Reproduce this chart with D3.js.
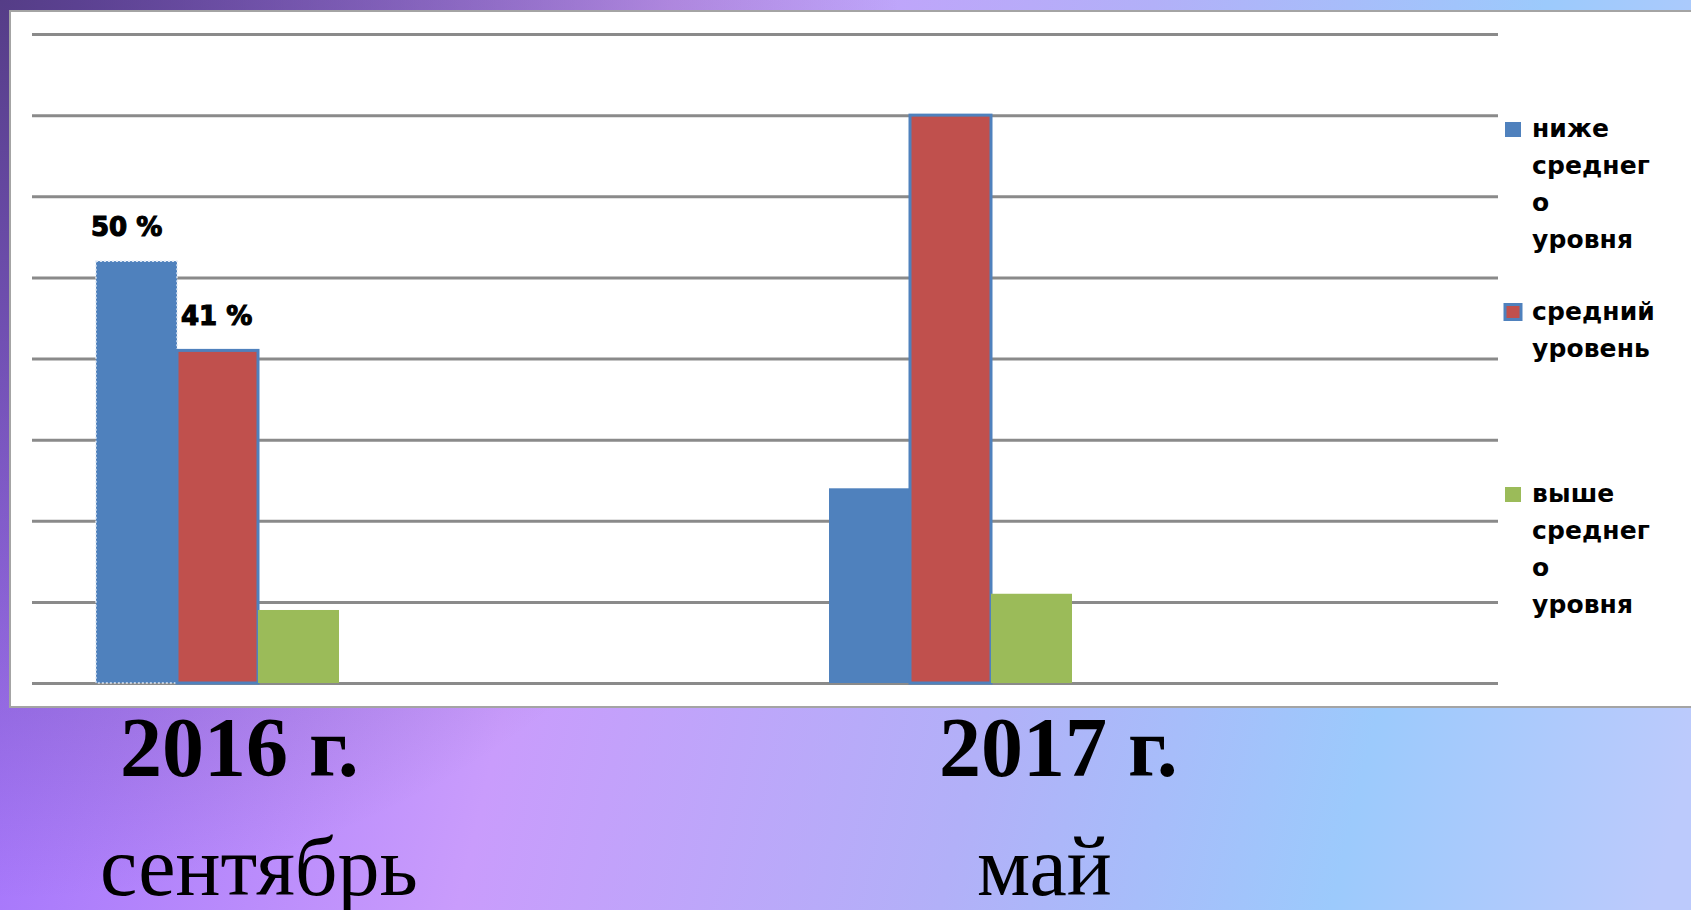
<!DOCTYPE html>
<html>
<head>
<meta charset="utf-8">
<script src="https://cdn.jsdelivr.net/npm/d3@7"></script>
<style>
  html, body { margin: 0; padding: 0; overflow: hidden; }
  svg { display: block; }
</style>
</head>
<body>
<div id="chart"></div>
<script>
// Chart data
const categories = ["2016", "2017"];
const series = ["ниже среднего уровня", "средний уровень", "выше среднего уровня"];
const belowAvg = [52, 24];
const average = [41, 70];
const aboveAvg = [9, 11];
const seriesValues = [belowAvg, average, aboveAvg];
const yTicks = [0, 10, 20, 30, 40, 50, 60, 70, 80];
const dataLabels2016 = ["50 %", "41 %", ""];
const legendLines = [["ниже", "среднег", "о", "уровня"], ["средний", "уровень"], ["выше", "среднег", "о", "уровня"]];
const yearLabels = ["2016 г.", "2017 г."];
const monthLabels = ["сентябрь", "май"];

const colors = ["#4F81BD", "#C0504D", "#9BBB59"];

const width = 1691;
const height = 910;

const svg = d3.select("#chart")
    .append("svg")
    .attr("width", width)
    .attr("height", height);

// Slide background gradient
const defs = svg.append("defs");
const bg = defs.append("linearGradient")
    .attr("id", "bg")
    .attr("gradientUnits", "userSpaceOnUse")
    .attr("x1", 0).attr("y1", 350)
    .attr("x2", width).attr("y2", 750);
[["0", "#9f6ffb"], ["0.33", "#c99cfc"], ["0.6", "#b2b0f8"], ["0.82", "#9ccafc"], ["1", "#bccafc"]]
    .forEach(([o, c]) => bg.append("stop").attr("offset", o).attr("stop-color", c));

const shade = defs.append("radialGradient")
    .attr("id", "shade")
    .attr("gradientUnits", "userSpaceOnUse")
    .attr("cx", 0).attr("cy", 0).attr("r", 900);
shade.append("stop").attr("offset", "0").attr("stop-color", "#3c2c60").attr("stop-opacity", 0.75);
shade.append("stop").attr("offset", "1").attr("stop-color", "#3c2c60").attr("stop-opacity", 0);

svg.append("rect").attr("width", width).attr("height", height).attr("fill", "url(#bg)");
svg.append("rect").attr("width", width).attr("height", height).attr("fill", "url(#shade)");

// White chart panel
svg.append("rect")
    .attr("x", 10).attr("y", 11)
    .attr("width", width - 8).attr("height", 696)
    .attr("fill", "#ffffff")
    .attr("stroke", "#a4a4a4")
    .attr("stroke-width", 2);

// Scales
const plot = { left: 32, right: 1498, top: 34, bottom: 683 };

const y = d3.scaleLinear()
    .domain([0, 80])
    .range([plot.bottom, plot.top]);

const x0 = d3.scaleBand()
    .domain(categories)
    .range([plot.left, plot.right]);

const x1 = d3.scaleBand()
    .domain(series)
    .range([64, 307]);

// Gridlines
const grid = svg.append("g")
    .attr("transform", `translate(${plot.left},0)`)
    .call(d3.axisLeft(y).tickValues(yTicks).tickSize(-(plot.right - plot.left)).tickFormat(""));
grid.select(".domain").remove();
grid.selectAll(".tick line")
    .attr("stroke", "#8a8a8a")
    .attr("stroke-width", 3);

// Bars
const groups = svg.selectAll("g.group")
    .data(categories)
    .join("g")
    .attr("class", "group")
    .attr("transform", d => `translate(${x0(d)},0)`);

groups.selectAll("rect")
    .data((c, ci) => series.map((s, si) => ({ s, si, ci, v: seriesValues[si][ci] })))
    .join("rect")
    .attr("x", d => x1(d.s))
    .attr("y", d => y(d.v))
    .attr("width", x1.bandwidth())
    .attr("height", d => y(0) - y(d.v))
    .attr("fill", d => colors[d.si])
    .attr("stroke", d => d.si === 1 ? "#4F81BD" : (d.si === 0 && d.ci === 0 ? "#dce6f4" : "none"))
    .attr("stroke-width", d => d.si === 1 ? 3 : 1.5)
    .attr("stroke-dasharray", d => d.si === 0 ? "2,2" : null);

// Data labels (2016), heavy bold text
const labelShift = [-5, 4];
svg.append("g")
    .selectAll("text")
    .data(series.map((s, si) => ({ s, si, label: dataLabels2016[si], v: seriesValues[si][0] })).filter(d => d.label))
    .join("text")
    .attr("x", d => x0(categories[0]) + x1(d.s) + labelShift[d.si])
    .attr("y", d => y(d.v) - 25)
    .attr("font-family", "'DejaVu Sans', Verdana, sans-serif")
    .attr("font-weight", "bold")
    .attr("font-size", 26)
    .attr("fill", "#000")
    .attr("stroke", "#000")
    .attr("stroke-width", 1.2)
    .text(d => d.label);

// Legend
const legend = svg.append("g")
    .attr("font-family", "'DejaVu Sans', Verdana, sans-serif")
    .attr("font-weight", "bold")
    .attr("font-size", 25)
    .attr("fill", "#000");

const legendItems = legend.selectAll("g")
    .data(series)
    .join("g")
    .attr("transform", (d, i) => `translate(1505,${137 + i * 182.5})`);

legendItems.append("rect")
    .attr("x", 0)
    .attr("y", -15)
    .attr("width", 16)
    .attr("height", 15)
    .attr("fill", (d, i) => colors[i])
    .attr("stroke", (d, i) => i === 1 ? "#4F81BD" : "none")
    .attr("stroke-width", 3);

legendItems.each(function (d, i) {
    d3.select(this).selectAll("text")
        .data(legendLines[i])
        .join("text")
        .attr("x", 27)
        .attr("y", (t, j) => j * 37)
        .attr("letter-spacing", 0.1)
        .text(t => t);
});

// Category labels below the chart
const catLabels = svg.append("g")
    .attr("font-family", "'Liberation Serif', 'Times New Roman', serif")
    .attr("fill", "#000");

const yearX = [120, 939];
const monthX = [100, 977];

catLabels.selectAll("text.year")
    .data(yearLabels)
    .join("text")
    .attr("class", "year")
    .attr("x", (d, i) => yearX[i])
    .attr("y", 776)
    .attr("font-weight", "bold")
    .attr("font-size", 84)
    .text(d => d);

catLabels.selectAll("text.month")
    .data(monthLabels)
    .join("text")
    .attr("class", "month")
    .attr("x", (d, i) => monthX[i])
    .attr("y", 895)
    .attr("font-size", 84)
    .text(d => d);
</script>
</body>
</html>
